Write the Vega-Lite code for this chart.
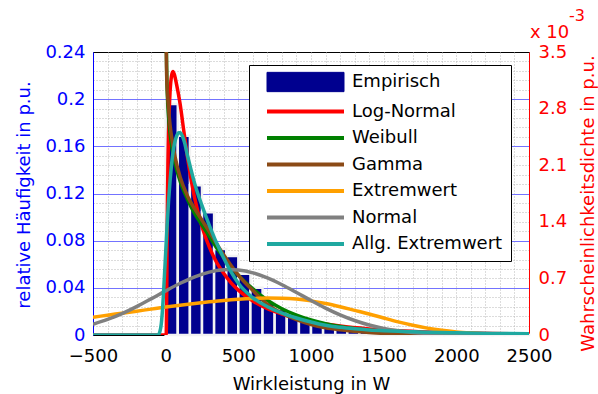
{
  "$schema": "https://vega.github.io/schema/vega-lite/v6.json",
  "width": 436,
  "height": 283,
  "autosize": {"type": "none"},
  "padding": {"left": 93, "top": 52, "right": 69, "bottom": 59},
  "background": "white",
  "config": {
    "view": {"stroke": "black", "strokeWidth": 1},
    "font": "DejaVu Sans",
    "axis": {"labelOverlap": false, "labelFlush": false}
  },
  "datasets": {
    "histogramm": [
      {"verteilung": "Empirisch", "von": 0, "bis": 83.3, "anteil": 0.196},
      {"verteilung": "Empirisch", "von": 83.3, "bis": 166.7, "anteil": 0.169},
      {"verteilung": "Empirisch", "von": 166.7, "bis": 250, "anteil": 0.127},
      {"verteilung": "Empirisch", "von": 250, "bis": 333.3, "anteil": 0.104},
      {"verteilung": "Empirisch", "von": 333.3, "bis": 416.7, "anteil": 0.073},
      {"verteilung": "Empirisch", "von": 416.7, "bis": 500, "anteil": 0.067},
      {"verteilung": "Empirisch", "von": 500, "bis": 583.3, "anteil": 0.052},
      {"verteilung": "Empirisch", "von": 583.3, "bis": 666.7, "anteil": 0.04},
      {"verteilung": "Empirisch", "von": 666.7, "bis": 750, "anteil": 0.028},
      {"verteilung": "Empirisch", "von": 750, "bis": 833.3, "anteil": 0.022},
      {"verteilung": "Empirisch", "von": 833.3, "bis": 916.7, "anteil": 0.017},
      {"verteilung": "Empirisch", "von": 916.7, "bis": 1000, "anteil": 0.014},
      {"verteilung": "Empirisch", "von": 1000, "bis": 1083.3, "anteil": 0.011},
      {"verteilung": "Empirisch", "von": 1083.3, "bis": 1166.7, "anteil": 0.008},
      {"verteilung": "Empirisch", "von": 1166.7, "bis": 1250, "anteil": 0.0065},
      {"verteilung": "Empirisch", "von": 1250, "bis": 1333.3, "anteil": 0.005},
      {"verteilung": "Empirisch", "von": 1333.3, "bis": 1416.7, "anteil": 0.004},
      {"verteilung": "Empirisch", "von": 1416.7, "bis": 1500, "anteil": 0.003},
      {"verteilung": "Empirisch", "von": 1500, "bis": 1583.3, "anteil": 0.0025},
      {"verteilung": "Empirisch", "von": 1583.3, "bis": 1666.7, "anteil": 0.002},
      {"verteilung": "Empirisch", "von": 1666.7, "bis": 1750, "anteil": 0.0015},
      {"verteilung": "Empirisch", "von": 1750, "bis": 1833.3, "anteil": 0.0012},
      {"verteilung": "Empirisch", "von": 1833.3, "bis": 1916.7, "anteil": 0.0009},
      {"verteilung": "Empirisch", "von": 1916.7, "bis": 2000, "anteil": 0.0007},
      {"verteilung": "Empirisch", "von": 2000, "bis": 2083.3, "anteil": 0.0005},
      {"verteilung": "Empirisch", "von": 2083.3, "bis": 2166.7, "anteil": 0.0004},
      {"verteilung": "Empirisch", "von": 2166.7, "bis": 2250, "anteil": 0.0003},
      {"verteilung": "Empirisch", "von": 2250, "bis": 2333.3, "anteil": 0.0002},
      {"verteilung": "Empirisch", "von": 2333.3, "bis": 2416.7, "anteil": 0.0002},
      {"verteilung": "Empirisch", "von": 2416.7, "bis": 2500, "anteil": 0.0001}
    ],
    "kurven": [
      {"verteilung": "Log-Normal", "w": -500, "dichte": 0},
      {"verteilung": "Log-Normal", "w": 0, "dichte": 0},
      {"verteilung": "Log-Normal", "w": 4, "dichte": 0.02},
      {"verteilung": "Log-Normal", "w": 6, "dichte": 0.25},
      {"verteilung": "Log-Normal", "w": 8, "dichte": 0.7},
      {"verteilung": "Log-Normal", "w": 10, "dichte": 1.2},
      {"verteilung": "Log-Normal", "w": 13, "dichte": 1.75},
      {"verteilung": "Log-Normal", "w": 16, "dichte": 2.15},
      {"verteilung": "Log-Normal", "w": 20, "dichte": 2.5},
      {"verteilung": "Log-Normal", "w": 25, "dichte": 2.8},
      {"verteilung": "Log-Normal", "w": 30, "dichte": 3.0},
      {"verteilung": "Log-Normal", "w": 40, "dichte": 3.2},
      {"verteilung": "Log-Normal", "w": 50, "dichte": 3.26},
      {"verteilung": "Log-Normal", "w": 60, "dichte": 3.22},
      {"verteilung": "Log-Normal", "w": 75, "dichte": 3.1},
      {"verteilung": "Log-Normal", "w": 100, "dichte": 2.85},
      {"verteilung": "Log-Normal", "w": 125, "dichte": 2.52},
      {"verteilung": "Log-Normal", "w": 150, "dichte": 2.2},
      {"verteilung": "Log-Normal", "w": 175, "dichte": 1.92},
      {"verteilung": "Log-Normal", "w": 200, "dichte": 1.69},
      {"verteilung": "Log-Normal", "w": 250, "dichte": 1.34},
      {"verteilung": "Log-Normal", "w": 300, "dichte": 1.09},
      {"verteilung": "Log-Normal", "w": 350, "dichte": 0.9},
      {"verteilung": "Log-Normal", "w": 400, "dichte": 0.76},
      {"verteilung": "Log-Normal", "w": 450, "dichte": 0.645},
      {"verteilung": "Log-Normal", "w": 500, "dichte": 0.555},
      {"verteilung": "Log-Normal", "w": 600, "dichte": 0.42},
      {"verteilung": "Log-Normal", "w": 700, "dichte": 0.325},
      {"verteilung": "Log-Normal", "w": 800, "dichte": 0.26},
      {"verteilung": "Log-Normal", "w": 900, "dichte": 0.205},
      {"verteilung": "Log-Normal", "w": 1000, "dichte": 0.165},
      {"verteilung": "Log-Normal", "w": 1100, "dichte": 0.135},
      {"verteilung": "Log-Normal", "w": 1200, "dichte": 0.11},
      {"verteilung": "Log-Normal", "w": 1400, "dichte": 0.075},
      {"verteilung": "Log-Normal", "w": 1600, "dichte": 0.052},
      {"verteilung": "Log-Normal", "w": 1800, "dichte": 0.037},
      {"verteilung": "Log-Normal", "w": 2000, "dichte": 0.027},
      {"verteilung": "Log-Normal", "w": 2250, "dichte": 0.019},
      {"verteilung": "Log-Normal", "w": 2500, "dichte": 0.013},

      {"verteilung": "Weibull", "w": 1, "dichte": 7},
      {"verteilung": "Weibull", "w": 2, "dichte": 5},
      {"verteilung": "Weibull", "w": 4, "dichte": 3.8},
      {"verteilung": "Weibull", "w": 7, "dichte": 3.3},
      {"verteilung": "Weibull", "w": 12, "dichte": 2.95},
      {"verteilung": "Weibull", "w": 20, "dichte": 2.7},
      {"verteilung": "Weibull", "w": 30, "dichte": 2.5},
      {"verteilung": "Weibull", "w": 45, "dichte": 2.3},
      {"verteilung": "Weibull", "w": 65, "dichte": 2.12},
      {"verteilung": "Weibull", "w": 100, "dichte": 1.9},
      {"verteilung": "Weibull", "w": 150, "dichte": 1.68},
      {"verteilung": "Weibull", "w": 200, "dichte": 1.5},
      {"verteilung": "Weibull", "w": 250, "dichte": 1.36},
      {"verteilung": "Weibull", "w": 300, "dichte": 1.22},
      {"verteilung": "Weibull", "w": 350, "dichte": 1.08},
      {"verteilung": "Weibull", "w": 400, "dichte": 0.96},
      {"verteilung": "Weibull", "w": 450, "dichte": 0.85},
      {"verteilung": "Weibull", "w": 500, "dichte": 0.74},
      {"verteilung": "Weibull", "w": 600, "dichte": 0.57},
      {"verteilung": "Weibull", "w": 700, "dichte": 0.43},
      {"verteilung": "Weibull", "w": 800, "dichte": 0.325},
      {"verteilung": "Weibull", "w": 900, "dichte": 0.245},
      {"verteilung": "Weibull", "w": 1000, "dichte": 0.185},
      {"verteilung": "Weibull", "w": 1100, "dichte": 0.14},
      {"verteilung": "Weibull", "w": 1200, "dichte": 0.105},
      {"verteilung": "Weibull", "w": 1400, "dichte": 0.06},
      {"verteilung": "Weibull", "w": 1600, "dichte": 0.033},
      {"verteilung": "Weibull", "w": 1800, "dichte": 0.018},
      {"verteilung": "Weibull", "w": 2000, "dichte": 0.01},
      {"verteilung": "Weibull", "w": 2250, "dichte": 0.005},
      {"verteilung": "Weibull", "w": 2500, "dichte": 0.002},

      {"verteilung": "Gamma", "w": 1, "dichte": 6.5},
      {"verteilung": "Gamma", "w": 2, "dichte": 4.6},
      {"verteilung": "Gamma", "w": 4, "dichte": 3.6},
      {"verteilung": "Gamma", "w": 7, "dichte": 3.2},
      {"verteilung": "Gamma", "w": 12, "dichte": 3.0},
      {"verteilung": "Gamma", "w": 20, "dichte": 2.8},
      {"verteilung": "Gamma", "w": 30, "dichte": 2.6},
      {"verteilung": "Gamma", "w": 45, "dichte": 2.4},
      {"verteilung": "Gamma", "w": 65, "dichte": 2.2},
      {"verteilung": "Gamma", "w": 100, "dichte": 1.95},
      {"verteilung": "Gamma", "w": 150, "dichte": 1.72},
      {"verteilung": "Gamma", "w": 200, "dichte": 1.56},
      {"verteilung": "Gamma", "w": 250, "dichte": 1.42},
      {"verteilung": "Gamma", "w": 300, "dichte": 1.28},
      {"verteilung": "Gamma", "w": 350, "dichte": 1.13},
      {"verteilung": "Gamma", "w": 400, "dichte": 0.99},
      {"verteilung": "Gamma", "w": 450, "dichte": 0.86},
      {"verteilung": "Gamma", "w": 500, "dichte": 0.74},
      {"verteilung": "Gamma", "w": 600, "dichte": 0.55},
      {"verteilung": "Gamma", "w": 700, "dichte": 0.38},
      {"verteilung": "Gamma", "w": 800, "dichte": 0.27},
      {"verteilung": "Gamma", "w": 900, "dichte": 0.19},
      {"verteilung": "Gamma", "w": 1000, "dichte": 0.13},
      {"verteilung": "Gamma", "w": 1100, "dichte": 0.09},
      {"verteilung": "Gamma", "w": 1200, "dichte": 0.065},
      {"verteilung": "Gamma", "w": 1400, "dichte": 0.032},
      {"verteilung": "Gamma", "w": 1600, "dichte": 0.016},
      {"verteilung": "Gamma", "w": 1800, "dichte": 0.008},
      {"verteilung": "Gamma", "w": 2000, "dichte": 0.004},
      {"verteilung": "Gamma", "w": 2250, "dichte": 0.0015},
      {"verteilung": "Gamma", "w": 2500, "dichte": 0.0006},

      {"verteilung": "Extremwert", "w": -500, "dichte": 0.22},
      {"verteilung": "Extremwert", "w": -400, "dichte": 0.245},
      {"verteilung": "Extremwert", "w": -300, "dichte": 0.27},
      {"verteilung": "Extremwert", "w": -200, "dichte": 0.295},
      {"verteilung": "Extremwert", "w": -100, "dichte": 0.32},
      {"verteilung": "Extremwert", "w": 0, "dichte": 0.345},
      {"verteilung": "Extremwert", "w": 100, "dichte": 0.368},
      {"verteilung": "Extremwert", "w": 200, "dichte": 0.39},
      {"verteilung": "Extremwert", "w": 300, "dichte": 0.41},
      {"verteilung": "Extremwert", "w": 400, "dichte": 0.428},
      {"verteilung": "Extremwert", "w": 500, "dichte": 0.442},
      {"verteilung": "Extremwert", "w": 600, "dichte": 0.452},
      {"verteilung": "Extremwert", "w": 700, "dichte": 0.457},
      {"verteilung": "Extremwert", "w": 800, "dichte": 0.455},
      {"verteilung": "Extremwert", "w": 900, "dichte": 0.445},
      {"verteilung": "Extremwert", "w": 1000, "dichte": 0.422},
      {"verteilung": "Extremwert", "w": 1100, "dichte": 0.39},
      {"verteilung": "Extremwert", "w": 1200, "dichte": 0.35},
      {"verteilung": "Extremwert", "w": 1300, "dichte": 0.305},
      {"verteilung": "Extremwert", "w": 1400, "dichte": 0.26},
      {"verteilung": "Extremwert", "w": 1500, "dichte": 0.21},
      {"verteilung": "Extremwert", "w": 1600, "dichte": 0.162},
      {"verteilung": "Extremwert", "w": 1700, "dichte": 0.12},
      {"verteilung": "Extremwert", "w": 1800, "dichte": 0.085},
      {"verteilung": "Extremwert", "w": 1900, "dichte": 0.058},
      {"verteilung": "Extremwert", "w": 2000, "dichte": 0.038},
      {"verteilung": "Extremwert", "w": 2100, "dichte": 0.024},
      {"verteilung": "Extremwert", "w": 2200, "dichte": 0.013},
      {"verteilung": "Extremwert", "w": 2300, "dichte": 0.007},
      {"verteilung": "Extremwert", "w": 2400, "dichte": 0.003},
      {"verteilung": "Extremwert", "w": 2500, "dichte": 0.001},

      {"verteilung": "Normal", "w": -500, "dichte": 0.133},
      {"verteilung": "Normal", "w": -400, "dichte": 0.192},
      {"verteilung": "Normal", "w": -300, "dichte": 0.265},
      {"verteilung": "Normal", "w": -200, "dichte": 0.351},
      {"verteilung": "Normal", "w": -100, "dichte": 0.447},
      {"verteilung": "Normal", "w": 0, "dichte": 0.546},
      {"verteilung": "Normal", "w": 100, "dichte": 0.64},
      {"verteilung": "Normal", "w": 200, "dichte": 0.72},
      {"verteilung": "Normal", "w": 300, "dichte": 0.778},
      {"verteilung": "Normal", "w": 400, "dichte": 0.807},
      {"verteilung": "Normal", "w": 440, "dichte": 0.81},
      {"verteilung": "Normal", "w": 500, "dichte": 0.804},
      {"verteilung": "Normal", "w": 600, "dichte": 0.769},
      {"verteilung": "Normal", "w": 700, "dichte": 0.706},
      {"verteilung": "Normal", "w": 800, "dichte": 0.622},
      {"verteilung": "Normal", "w": 900, "dichte": 0.526},
      {"verteilung": "Normal", "w": 1000, "dichte": 0.427},
      {"verteilung": "Normal", "w": 1100, "dichte": 0.333},
      {"verteilung": "Normal", "w": 1200, "dichte": 0.249},
      {"verteilung": "Normal", "w": 1300, "dichte": 0.179},
      {"verteilung": "Normal", "w": 1400, "dichte": 0.124},
      {"verteilung": "Normal", "w": 1500, "dichte": 0.082},
      {"verteilung": "Normal", "w": 1600, "dichte": 0.052},
      {"verteilung": "Normal", "w": 1700, "dichte": 0.032},
      {"verteilung": "Normal", "w": 1800, "dichte": 0.019},
      {"verteilung": "Normal", "w": 1900, "dichte": 0.01},
      {"verteilung": "Normal", "w": 2000, "dichte": 0.0056},
      {"verteilung": "Normal", "w": 2200, "dichte": 0.0015},
      {"verteilung": "Normal", "w": 2500, "dichte": 0.0001},

      {"verteilung": "Allg. Extremwert", "w": -500, "dichte": 0},
      {"verteilung": "Allg. Extremwert", "w": -100, "dichte": 0},
      {"verteilung": "Allg. Extremwert", "w": -60, "dichte": 0},
      {"verteilung": "Allg. Extremwert", "w": -50, "dichte": 0.005},
      {"verteilung": "Allg. Extremwert", "w": -40, "dichte": 0.04},
      {"verteilung": "Allg. Extremwert", "w": -30, "dichte": 0.14},
      {"verteilung": "Allg. Extremwert", "w": -20, "dichte": 0.36},
      {"verteilung": "Allg. Extremwert", "w": -10, "dichte": 0.68},
      {"verteilung": "Allg. Extremwert", "w": 0, "dichte": 1.02},
      {"verteilung": "Allg. Extremwert", "w": 10, "dichte": 1.36},
      {"verteilung": "Allg. Extremwert", "w": 20, "dichte": 1.66},
      {"verteilung": "Allg. Extremwert", "w": 30, "dichte": 1.9},
      {"verteilung": "Allg. Extremwert", "w": 40, "dichte": 2.1},
      {"verteilung": "Allg. Extremwert", "w": 50, "dichte": 2.25},
      {"verteilung": "Allg. Extremwert", "w": 60, "dichte": 2.36},
      {"verteilung": "Allg. Extremwert", "w": 75, "dichte": 2.46},
      {"verteilung": "Allg. Extremwert", "w": 90, "dichte": 2.5},
      {"verteilung": "Allg. Extremwert", "w": 100, "dichte": 2.5},
      {"verteilung": "Allg. Extremwert", "w": 115, "dichte": 2.46},
      {"verteilung": "Allg. Extremwert", "w": 130, "dichte": 2.38},
      {"verteilung": "Allg. Extremwert", "w": 150, "dichte": 2.22},
      {"verteilung": "Allg. Extremwert", "w": 175, "dichte": 2.04},
      {"verteilung": "Allg. Extremwert", "w": 200, "dichte": 1.87},
      {"verteilung": "Allg. Extremwert", "w": 250, "dichte": 1.6},
      {"verteilung": "Allg. Extremwert", "w": 300, "dichte": 1.36},
      {"verteilung": "Allg. Extremwert", "w": 350, "dichte": 1.14},
      {"verteilung": "Allg. Extremwert", "w": 400, "dichte": 0.95},
      {"verteilung": "Allg. Extremwert", "w": 450, "dichte": 0.78},
      {"verteilung": "Allg. Extremwert", "w": 500, "dichte": 0.64},
      {"verteilung": "Allg. Extremwert", "w": 600, "dichte": 0.46},
      {"verteilung": "Allg. Extremwert", "w": 700, "dichte": 0.35},
      {"verteilung": "Allg. Extremwert", "w": 800, "dichte": 0.27},
      {"verteilung": "Allg. Extremwert", "w": 900, "dichte": 0.21},
      {"verteilung": "Allg. Extremwert", "w": 1000, "dichte": 0.16},
      {"verteilung": "Allg. Extremwert", "w": 1100, "dichte": 0.12},
      {"verteilung": "Allg. Extremwert", "w": 1200, "dichte": 0.095},
      {"verteilung": "Allg. Extremwert", "w": 1300, "dichte": 0.077},
      {"verteilung": "Allg. Extremwert", "w": 1400, "dichte": 0.063},
      {"verteilung": "Allg. Extremwert", "w": 1500, "dichte": 0.053},
      {"verteilung": "Allg. Extremwert", "w": 1600, "dichte": 0.045},
      {"verteilung": "Allg. Extremwert", "w": 1800, "dichte": 0.035},
      {"verteilung": "Allg. Extremwert", "w": 2000, "dichte": 0.027},
      {"verteilung": "Allg. Extremwert", "w": 2250, "dichte": 0.02},
      {"verteilung": "Allg. Extremwert", "w": 2500, "dichte": 0.015}
    ]
  },
  "layer": [
    {
      "data": {"name": "histogramm"},
      "mark": {"type": "rect", "stroke": "#f2f2f2", "strokeWidth": 2.5},
      "encoding": {
        "x": {
          "field": "von",
          "type": "quantitative",
          "scale": {"domain": [-500, 2500], "nice": false, "zero": false},
          "axis": {
            "values": [-500, -400, -300, -200, -100, 0, 100, 200, 300, 400, 500, 600, 700, 800, 900, 1000, 1100, 1200, 1300, 1400, 1500, 1600, 1700, 1800, 1900, 2000, 2100, 2200, 2300, 2400, 2500],
            "labelExpr": "datum.value % 500 === 0 ? format(datum.value, 'd') : ''",
            "labelOverlap": false,
            "labelFlush": false,
            "labelFont": "DejaVu Sans",
            "labelFontSize": 18,
            "labelColor": "black",
            "labelPadding": 12,
            "grid": true,
            "gridColor": "#b9b9b9",
            "gridDash": [1, 2],
            "gridOpacity": {"condition": {"test": "datum.value <= -500 || datum.value >= 2500", "value": 0}, "value": 1},
            "ticks": false,
            "domainColor": "black",
            "title": "Wirkleistung in W",
            "titleFont": "DejaVu Sans",
            "titleFontSize": 18,
            "titleFontWeight": "normal",
            "titleColor": "black",
            "titleX": 218,
            "titleY": 49,
            "titleAlign": "center",
            "titleBaseline": "middle",
            "titleAngle": 0
          }
        },
        "x2": {"field": "bis"},
        "y": {
          "field": "anteil",
          "type": "quantitative",
          "scale": {"domain": [0, 0.24], "nice": false},
          "axis": {
            "orient": "left",
            "values": [0, 0.008, 0.016, 0.024, 0.032, 0.04, 0.048, 0.056, 0.064, 0.072, 0.08, 0.088, 0.096, 0.104, 0.112, 0.12, 0.128, 0.136, 0.144, 0.152, 0.16, 0.168, 0.176, 0.184, 0.192, 0.2, 0.208, 0.216, 0.224, 0.232, 0.24],
            "labelExpr": "abs(datum.value / 0.04 - round(datum.value / 0.04)) < 0.001 ? format(datum.value, '.2~f') : ''",
            "labelOverlap": false,
            "labelFlush": false,
            "labelFont": "DejaVu Sans",
            "labelFontSize": 18,
            "labelColor": "#0000ff",
            "labelPadding": 8,
            "grid": true,
            "gridColor": {"condition": {"test": "abs(datum.value / 0.04 - round(datum.value / 0.04)) < 0.001", "value": "#7373ff"}, "value": "#b9b9b9"},
            "gridDash": {"condition": {"test": "abs(datum.value / 0.04 - round(datum.value / 0.04)) < 0.001", "value": []}, "value": [1, 2]},
            "gridOpacity": {"condition": {"test": "datum.value < 0.0001 || datum.value > 0.2399", "value": 0}, "value": 1},
            "ticks": false,
            "domainColor": "#0000ff",
            "title": "relative Häufigkeit in p.u.",
            "titleFont": "DejaVu Sans",
            "titleFontSize": 18,
            "titleFontWeight": "normal",
            "titleColor": "#0000ff",
            "titleAngle": 270,
            "titleX": -69,
            "titleY": 142.5,
            "titleAlign": "center",
            "titleBaseline": "middle"
          }
        },
        "y2": {"datum": 0},
        "color": {
          "field": "verteilung",
          "type": "nominal",
          "scale": {
            "domain": ["Empirisch", "Log-Normal", "Weibull", "Gamma", "Extremwert", "Normal", "Allg. Extremwert"],
            "range": ["#00008f", "#ff0000", "#008000", "#8b4a16", "#ffa000", "#808080", "#1fa8a0"]
          },
          "legend": {
            "orient": "none",
            "legendX": 156,
            "legendY": 13,
            "title": null,
            "fillColor": "white",
            "strokeColor": "black",
            "padding": 8,
            "symbolSize": 100,
            "symbolStrokeWidth": 4,
            "symbolOffset": 39.5,
            "labelOffset": 37.5,
            "labelFont": "DejaVu Sans",
            "labelFontSize": 18,
            "labelColor": "black",
            "labelLimit": 400,
            "rowPadding": 8.5,
            "encode": {
              "symbols": {
                "update": {
                  "shape": {"signal": "datum.value === 'Empirisch' ? 'M-7.7,-1.93H7.7V1.93H-7.7Z' : 'M-7.7,0H7.7'"},
                  "fill": {"signal": "datum.value === 'Empirisch' ? '#00008f' : 'transparent'"},
                  "stroke": {"signal": "datum.value === 'Empirisch' ? '#000000' : scale('color', datum.value)"},
                  "strokeWidth": {"signal": "datum.value === 'Empirisch' ? 1 : 4"},
                  "size": {"value": 100},
                  "opacity": {"value": 1}
                }
              }
            }
          }
        }
      }
    },
    {
      "layer": [
        {
          "data": {"name": "kurven"},
          "mark": {"type": "line", "strokeWidth": 3.5, "clip": true, "interpolate": "monotone"},
          "encoding": {
            "x": {
              "field": "w",
              "type": "quantitative",
              "scale": {"domain": [-500, 2500], "nice": false, "zero": false},
              "axis": {
                "values": [-500, -400, -300, -200, -100, 0, 100, 200, 300, 400, 500, 600, 700, 800, 900, 1000, 1100, 1200, 1300, 1400, 1500, 1600, 1700, 1800, 1900, 2000, 2100, 2200, 2300, 2400, 2500],
                "labelExpr": "datum.value % 500 === 0 ? format(datum.value, 'd') : ''",
                "labelOverlap": false,
                "labelFlush": false,
                "labelFont": "DejaVu Sans",
                "labelFontSize": 18,
                "labelColor": "black",
                "labelPadding": 12,
                "grid": true,
                "gridColor": "#b9b9b9",
                "gridDash": [1, 2],
                "gridOpacity": {"condition": {"test": "datum.value <= -500 || datum.value >= 2500", "value": 0}, "value": 1},
                "ticks": false,
                "domainColor": "black",
                "title": "Wirkleistung in W",
                "titleFont": "DejaVu Sans",
                "titleFontSize": 18,
                "titleFontWeight": "normal",
                "titleColor": "black",
                "titleX": 218,
                "titleY": 49,
                "titleAlign": "center",
                "titleBaseline": "middle",
                "titleAngle": 0
              }
            },
            "y": {
              "field": "dichte",
              "type": "quantitative",
              "scale": {"domain": [0, 3.5], "nice": false},
              "axis": {
                "orient": "right",
                "values": [0, 0.7, 1.4, 2.1, 2.8, 3.5],
                "format": ".1~f",
                "labelOverlap": false,
                "labelFlush": false,
                "labelFont": "DejaVu Sans",
                "labelFontSize": 18,
                "labelColor": "#ff0000",
                "labelPadding": 9,
                "grid": false,
                "ticks": false,
                "domainColor": "#ff0000",
                "title": "Wahrscheinlichkeitsdichte in p.u.",
                "titleFont": "DejaVu Sans",
                "titleFontSize": 18,
                "titleFontWeight": "normal",
                "titleColor": "#ff0000",
                "titleAngle": 270,
                "titleX": 59,
                "titleY": 151,
                "titleAlign": "center",
                "titleBaseline": "middle"
              }
            },
            "color": {
              "field": "verteilung",
              "type": "nominal",
              "scale": {
                "domain": ["Empirisch", "Log-Normal", "Weibull", "Gamma", "Extremwert", "Normal", "Allg. Extremwert"],
                "range": ["#00008f", "#ff0000", "#008000", "#8b4a16", "#ffa000", "#808080", "#1fa8a0"]
              },
              "legend": {
                "orient": "none",
                "legendX": 156,
                "legendY": 13,
                "title": null,
                "fillColor": "white",
                "strokeColor": "black",
                "padding": 8,
                "symbolSize": 100,
                "symbolStrokeWidth": 4,
                "symbolOffset": 39.5,
                "labelOffset": 37.5,
                "labelFont": "DejaVu Sans",
                "labelFontSize": 18,
                "labelColor": "black",
                "labelLimit": 400,
                "rowPadding": 8.5,
                "encode": {
                  "symbols": {
                    "update": {
                      "shape": {"signal": "datum.value === 'Empirisch' ? 'M-7.7,-1.93H7.7V1.93H-7.7Z' : 'M-7.7,0H7.7'"},
                      "fill": {"signal": "datum.value === 'Empirisch' ? '#00008f' : 'transparent'"},
                      "stroke": {"signal": "datum.value === 'Empirisch' ? '#000000' : scale('color', datum.value)"},
                      "strokeWidth": {"signal": "datum.value === 'Empirisch' ? 1 : 4"},
                      "size": {"value": 100},
                      "opacity": {"value": 1}
                    }
                  }
                }
              }
            }
          }
        },
        {
          "data": {"values": [{}]},
          "mark": {"type": "text", "align": "left", "baseline": "alphabetic", "dx": 1, "dy": -14, "font": "DejaVu Sans", "fontSize": 18, "color": "#ff0000"},
          "encoding": {
            "x": {
              "datum": 2500,
              "type": "quantitative",
              "axis": {
                "values": [-500, -400, -300, -200, -100, 0, 100, 200, 300, 400, 500, 600, 700, 800, 900, 1000, 1100, 1200, 1300, 1400, 1500, 1600, 1700, 1800, 1900, 2000, 2100, 2200, 2300, 2400, 2500],
                "labelExpr": "datum.value % 500 === 0 ? format(datum.value, 'd') : ''",
                "labelOverlap": false,
                "labelFlush": false,
                "labelFont": "DejaVu Sans",
                "labelFontSize": 18,
                "labelColor": "black",
                "labelPadding": 12,
                "grid": true,
                "gridColor": "#b9b9b9",
                "gridDash": [1, 2],
                "gridOpacity": {"condition": {"test": "datum.value <= -500 || datum.value >= 2500", "value": 0}, "value": 1},
                "ticks": false,
                "domainColor": "black",
                "title": "Wirkleistung in W",
                "titleFont": "DejaVu Sans",
                "titleFontSize": 18,
                "titleFontWeight": "normal",
                "titleColor": "black",
                "titleX": 218,
                "titleY": 49,
                "titleAlign": "center",
                "titleBaseline": "middle",
                "titleAngle": 0
              }
            },
            "y": {
              "datum": 3.5,
              "type": "quantitative",
              "axis": {
                "orient": "right",
                "values": [0, 0.7, 1.4, 2.1, 2.8, 3.5],
                "format": ".1~f",
                "labelOverlap": false,
                "labelFlush": false,
                "labelFont": "DejaVu Sans",
                "labelFontSize": 18,
                "labelColor": "#ff0000",
                "labelPadding": 9,
                "grid": false,
                "ticks": false,
                "domainColor": "#ff0000",
                "title": "Wahrscheinlichkeitsdichte in p.u.",
                "titleFont": "DejaVu Sans",
                "titleFontSize": 18,
                "titleFontWeight": "normal",
                "titleColor": "#ff0000",
                "titleAngle": 270,
                "titleX": 59,
                "titleY": 151,
                "titleAlign": "center",
                "titleBaseline": "middle"
              }
            },
            "text": {"value": "x 10"}
          }
        },
        {
          "data": {"values": [{}]},
          "mark": {"type": "text", "align": "left", "baseline": "alphabetic", "dx": 40, "dy": -31, "font": "DejaVu Sans", "fontSize": 16, "color": "#ff0000"},
          "encoding": {
            "x": {
              "datum": 2500,
              "type": "quantitative",
              "axis": {
                "values": [-500, -400, -300, -200, -100, 0, 100, 200, 300, 400, 500, 600, 700, 800, 900, 1000, 1100, 1200, 1300, 1400, 1500, 1600, 1700, 1800, 1900, 2000, 2100, 2200, 2300, 2400, 2500],
                "labelExpr": "datum.value % 500 === 0 ? format(datum.value, 'd') : ''",
                "labelOverlap": false,
                "labelFlush": false,
                "labelFont": "DejaVu Sans",
                "labelFontSize": 18,
                "labelColor": "black",
                "labelPadding": 12,
                "grid": true,
                "gridColor": "#b9b9b9",
                "gridDash": [1, 2],
                "gridOpacity": {"condition": {"test": "datum.value <= -500 || datum.value >= 2500", "value": 0}, "value": 1},
                "ticks": false,
                "domainColor": "black",
                "title": "Wirkleistung in W",
                "titleFont": "DejaVu Sans",
                "titleFontSize": 18,
                "titleFontWeight": "normal",
                "titleColor": "black",
                "titleX": 218,
                "titleY": 49,
                "titleAlign": "center",
                "titleBaseline": "middle",
                "titleAngle": 0
              }
            },
            "y": {
              "datum": 3.5,
              "type": "quantitative",
              "axis": {
                "orient": "right",
                "values": [0, 0.7, 1.4, 2.1, 2.8, 3.5],
                "format": ".1~f",
                "labelOverlap": false,
                "labelFlush": false,
                "labelFont": "DejaVu Sans",
                "labelFontSize": 18,
                "labelColor": "#ff0000",
                "labelPadding": 9,
                "grid": false,
                "ticks": false,
                "domainColor": "#ff0000",
                "title": "Wahrscheinlichkeitsdichte in p.u.",
                "titleFont": "DejaVu Sans",
                "titleFontSize": 18,
                "titleFontWeight": "normal",
                "titleColor": "#ff0000",
                "titleAngle": 270,
                "titleX": 59,
                "titleY": 151,
                "titleAlign": "center",
                "titleBaseline": "middle"
              }
            },
            "text": {"value": "-3"}
          }
        }
      ]
    }
  ],
  "resolve": {"scale": {"y": "independent"}}
}
